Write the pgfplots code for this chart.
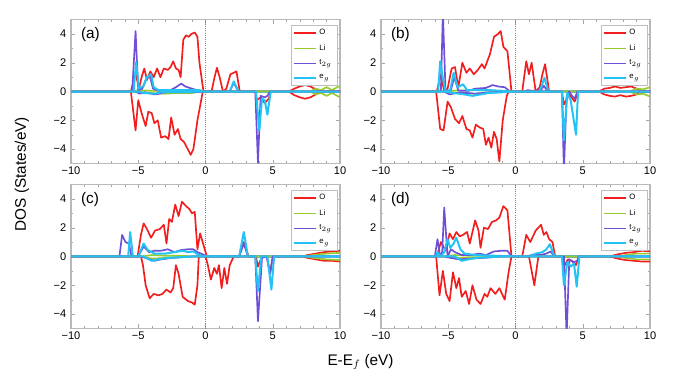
\documentclass[border=0pt]{standalone}
\usepackage{fontspec}
\setmainfont{Liberation Sans}
\usepackage{pgfplots}
\pgfplotsset{compat=1.18}
\definecolor{cO}{RGB}{242,30,30}
\definecolor{cLi}{RGB}{150,205,45}
\definecolor{cT}{RGB}{110,80,215}
\definecolor{cE}{RGB}{35,195,245}
\pgfplotsset{
  dosaxis/.style={
    width=201.75pt,height=108pt,scale only axis,
    xmin=-10,xmax=10,ymin=-5,ymax=5,
    xtick={-10,-5,0,5,10},xticklabels={−10,−5,0,5,10},
    ytick={-4,-2,0,2,4},yticklabels={−4,−2,0,2,4},
    minor x tick num=4, minor y tick num=1,
    tick align=inside, axis line style={gray!55, line width=0.8pt},
    major tick length=3pt, minor tick length=1.6pt,
    tick style={gray!70},
    tick label style={font=\fontsize{8.3}{9}\selectfont},
    xticklabel style={yshift=1pt},
    clip=true,
    legend cell align=left,
    legend style={at={(0.99,0.965)},anchor=north east,
      font=\fontsize{5.8}{6}\selectfont, draw=gray!50, fill=white,
      row sep=1.8pt, inner sep=1.5pt, inner xsep=2pt},
    legend image code/.code={\draw[#1] (0pt,0pt) -- (16pt,0pt);},
  },
  O/.style={color=cO, line width=1.25pt, line join=round},
  L/.style={color=cLi, line width=1.25pt, line join=round},
  T/.style={color=cT, line width=1.25pt, line join=round},
  E/.style={color=cE, line width=1.5pt, line join=round},
}
\newcommand{\zeroline}{\draw[gray, densely dotted, line width=0.6pt] (axis cs:0,-5) -- (axis cs:0,5);}
\newcommand{\leg}{\legend{O,Li,t$_{2g}$,e$_g$}}
\begin{document}
\begin{tikzpicture}
\useasboundingbox (0,0) rectangle (513pt,290.25pt);
% ---------------- (a)
\begin{axis}[dosaxis, at={(53.25pt,167.6pt)}, anchor=south west]
\zeroline
\addplot[O] coordinates {(-10,0)(-5.55,0)(-5.2,1.3)(-4.95,0.2)(-4.75,1.0)(-4.55,1.6)(-4.35,0.8)(-4.1,1.4)(-3.85,1.0)(-3.6,1.6)(-3.35,1.0)(-3.1,1.6)(-2.8,1.5)(-2.6,1.7)(-2.4,2.1)(-2.2,1.6)(-2.0,1.5)(-1.85,1.0)(-1.65,3.6)(-1.45,3.9)(-1.25,3.8)(-1.05,4.0)(-0.8,4.1)(-0.6,3.8)(-0.45,2.0)(-0.15,0)(0.45,0)(0.65,0.9)(0.85,1.65)(1.05,1.0)(1.3,0)(1.55,0.2)(1.85,1.2)(2.1,1.3)(2.3,1.4)(2.55,0)(6.2,0)(6.6,0.2)(7.0,0.35)(7.4,0.45)(7.8,0.35)(8.2,0.15)(8.6,0)(10,0)};
\addplot[L] coordinates {(-10,0)(-5.4,0)(-5,0.1)(-4,0.05)(-3,0.05)(-2,0.1)(-1,0.1)(-0.3,0)(7.8,0)(8.2,0.2)(8.6,0.1)(9.0,0.3)(9.4,0.1)(9.8,0.3)(10,0.4)};
\addplot[T] coordinates {(-10,0)(-5.45,0)(-5.2,4.2)(-5.0,0.1)(-4.7,0.2)(-4.45,0.8)(-4.15,1.1)(-3.9,0.2)(-3.5,0.05)(-2.6,0.1)(-2.2,0.3)(-1.8,0.55)(-1.5,0.35)(-1.0,0.2)(-0.3,0)(1.8,0)(2.1,0.6)(2.45,0)(10,0)};
\addplot[E] coordinates {(-10,0)(-5.35,0)(-5.15,2.05)(-4.95,0.2)(-4.6,0.4)(-4.35,1.0)(-4.05,1.2)(-3.85,0.3)(-3.5,0.1)(-2,0.1)(-0.5,0.1)(0,0)(1.8,0)(2.1,0.7)(2.45,0)(10,0)};
\addplot[O,forget plot] coordinates {(-10,0)(-5.55,0)(-5.2,-2.7)(-5.0,-0.6)(-4.75,-1.5)(-4.45,-2.4)(-4.25,-1.4)(-4.0,-1.5)(-3.8,-2.2)(-3.55,-2.0)(-3.3,-3.2)(-3.0,-3.1)(-2.75,-3.3)(-2.55,-1.8)(-2.3,-3.0)(-2.05,-2.6)(-1.85,-3.3)(-1.6,-3.5)(-1.4,-3.85)(-1.1,-4.4)(-0.9,-4.0)(-0.6,-2.0)(-0.2,0)(3.7,0)(3.8,-0.6)(4.1,-0.4)(4.4,-0.8)(4.7,-0.5)(4.85,0)(6.2,0)(6.6,-0.25)(7.0,-0.4)(7.4,-0.5)(7.8,-0.4)(8.2,-0.2)(8.6,0)(10,0)};
\addplot[L,forget plot] coordinates {(-10,0)(-5.4,0)(-4,-0.1)(-3,-0.15)(-2,-0.1)(-1,-0.1)(-0.3,0)(7.8,0)(8.2,-0.2)(8.6,-0.1)(9.0,-0.3)(9.4,-0.1)(9.8,-0.3)(10,-0.4)};
\addplot[T,forget plot] coordinates {(-10,0)(-5.2,0)(-4.9,-0.15)(-4.5,-0.05)(-3.8,-0.2)(-3.4,-0.15)(-3,-0.05)(-1,-0.05)(0,0)(3.7,0)(3.9,-4.95)(4.1,-0.3)(4.4,-0.4)(4.6,-0.3)(4.8,0)(10,0)};
\addplot[E,forget plot] coordinates {(-10,0)(-5.0,0)(-4.6,-0.1)(-3.8,-0.15)(-3.2,-0.05)(0,0)(3.75,0)(4.0,-2.7)(4.2,-0.5)(4.4,-0.6)(4.6,-1.6)(4.85,0)(10,0)};
\leg
\node[anchor=north west,font=\fontsize{11.5}{12}\selectfont] at (rel axis cs:0.02,0.98) {(a)};
\end{axis}
% ---------------- (b)
\begin{axis}[dosaxis, at={(285.75pt,167.6pt)}, anchor=south west]
\zeroline
\addplot[O] coordinates {(-10,0)(-5.85,0)(-5.55,1.2)(-5.3,0)(-5.05,0.2)(-4.75,1.6)(-4.5,1.7)(-4.25,0.3)(-3.95,2.0)(-3.65,1.3)(-3.4,1.6)(-3.1,1.2)(-2.8,1.5)(-2.5,1.9)(-2.3,1.6)(-2.1,2.1)(-1.9,2.6)(-1.6,3.8)(-1.3,4.0)(-1.1,4.2)(-0.9,3.1)(-0.6,2.8)(-0.3,0)(0.5,0)(0.8,2.1)(1.0,1.2)(1.2,2.0)(1.5,0)(1.8,0.3)(2.0,1.2)(2.2,1.9)(2.5,0)(6.2,0)(6.6,0.2)(7,0.25)(7.4,0.35)(7.8,0.25)(8.2,0.3)(8.6,0.35)(9.0,0.2)(9.3,0)(10,0)};
\addplot[L] coordinates {(-10,0)(-5.6,0)(-5,0.05)(-3,0.1)(-1.5,0.05)(-0.5,0)(8.5,0)(9,0.2)(9.5,0.15)(10,0.3)};
\addplot[T] coordinates {(-10,0)(-5.55,0)(-5.4,5.5)(-5.2,0)(-4.8,0.1)(-4.55,1.0)(-4.25,0.05)(-3.5,0.05)(-3.0,0.2)(-2.2,0.25)(-1.7,0.45)(-1.3,0.35)(-0.8,0.3)(-0.4,0)(0.7,0)(0.9,0.1)(1.2,0.05)(1.9,0.1)(2.1,0.4)(2.4,0)(10,0)};
\addplot[E] coordinates {(-10,0)(-5.75,0)(-5.6,2.1)(-5.4,0.9)(-5.2,0)(-4.85,0.1)(-4.6,1.3)(-4.3,0.3)(-3.9,0.5)(-3.6,0.1)(-2,0.1)(0,0)(1.8,0)(2.15,0.95)(2.45,0)(10,0)};
\addplot[O,forget plot] coordinates {(-10,0)(-5.9,0)(-5.6,-2.6)(-5.35,-2.7)(-5.05,-0.7)(-4.8,-1.1)(-4.5,-1.9)(-4.2,-2.2)(-3.95,-1.7)(-3.65,-2.6)(-3.4,-2.7)(-3.2,-3.2)(-2.95,-2.3)(-2.65,-2.5)(-2.4,-2.6)(-2.2,-3.7)(-2.0,-3.2)(-1.8,-3.9)(-1.6,-2.8)(-1.4,-3.3)(-1.2,-4.85)(-0.95,-2.0)(-0.65,-0.3)(-0.5,0)(3.45,0)(3.6,-0.9)(4.0,-0.2)(4.4,-0.7)(4.65,0)(6.2,0)(6.6,-0.2)(7,-0.3)(7.4,-0.35)(7.8,-0.25)(8.2,-0.35)(8.6,-0.3)(9.0,-0.2)(9.3,0)(10,0)};
\addplot[L,forget plot] coordinates {(-10,0)(-5.6,0)(-4,-0.1)(-3,-0.15)(-2,-0.1)(-0.5,0)(8.5,0)(9,-0.2)(9.5,-0.15)(10,-0.35)};
\addplot[T,forget plot] coordinates {(-10,0)(-5.3,0)(-4.9,-0.2)(-4.4,-0.1)(-3.6,-0.1)(-3,-0.15)(-2,-0.05)(0,0)(3.45,0)(3.6,-5.5)(3.8,-0.3)(4.0,0)(4.2,-0.3)(4.4,-0.5)(4.6,0)(10,0)};
\addplot[E,forget plot] coordinates {(-10,0)(-5.2,0)(-4.6,-0.1)(-3.8,-0.2)(-3.2,-0.3)(-2,-0.1)(0,0)(3.45,0)(3.6,-3.4)(3.85,-0.1)(4.1,-0.6)(4.5,-3.0)(4.65,0)(10,0)};
\leg
\node[anchor=north west,font=\fontsize{11.5}{12}\selectfont] at (rel axis cs:0.02,0.98) {(b)};
\end{axis}
% ---------------- (c)
\begin{axis}[dosaxis, at={(53.25pt,43.9pt)}, anchor=south west]
\zeroline
\addplot[O] coordinates {(-10,0)(-5.05,0)(-4.8,1.5)(-4.6,2.3)(-4.35,1.9)(-4.05,1.3)(-3.75,1.8)(-3.4,1.9)(-3.1,2.2)(-2.9,0.9)(-2.7,2.6)(-2.5,2.4)(-2.25,3.6)(-2.0,2.8)(-1.75,3.8)(-1.45,3.5)(-1.2,3.3)(-1.0,3.0)(-0.8,3.1)(-0.6,0.5)(-0.4,1.6)(-0.15,0.8)(0.1,0)(2.5,0)(2.85,1.0)(3.2,0)(7.2,0)(7.6,0.1)(8.2,0.2)(8.8,0.3)(9.4,0.35)(10,0.4)};
\addplot[L] coordinates {(-10,0)(-4.7,0)(-4,0.1)(-3,0.05)(-2,0.05)(-0.5,0)(7.4,0)(8,0.1)(9,0.2)(10,0.25)};
\addplot[T] coordinates {(-10,0)(-6.4,0)(-6.2,1.5)(-5.95,1.0)(-5.7,0.9)(-5.5,0)(-5.0,0)(-4.6,0.7)(-4.2,0.3)(-3.8,0.4)(-3.3,0.4)(-2.8,0.5)(-2.3,0.3)(-1.8,0.45)(-1.3,0.5)(-0.9,0.5)(-0.6,0.3)(-0.2,0.15)(0.1,0)(2.5,0)(2.85,0.9)(3.15,0)(10,0)};
\addplot[E] coordinates {(-10,0)(-5.75,0)(-5.6,1.7)(-5.4,0)(-5.0,0)(-4.6,0.9)(-4.3,0.45)(-3.8,0.2)(-3.0,0.2)(-2.3,0.3)(-1.7,0.4)(-1.3,0.3)(-0.9,0.35)(-0.5,0.1)(0,0)(2.5,0)(2.85,1.7)(3.15,0)(10,0)};
\addplot[O,forget plot] coordinates {(-10,0)(-4.8,0)(-4.65,-0.6)(-4.45,-2.0)(-4.15,-2.9)(-3.85,-2.6)(-3.5,-2.7)(-3.2,-2.6)(-2.9,-2.3)(-2.6,-2.5)(-2.4,-2.2)(-2.2,-0.6)(-2.0,-1.2)(-1.7,-2.8)(-1.3,-3.1)(-1.0,-3.2)(-0.8,-3.35)(-0.6,-2.0)(-0.5,0)(0,0)(0.15,-0.5)(0.4,-1.6)(0.65,-0.8)(0.85,-1.2)(1.0,-0.6)(1.2,-2.2)(1.4,-0.8)(1.6,-1.9)(1.8,-0.6)(2.1,0)(3.75,0)(3.9,-0.7)(4.2,0)(4.55,0)(4.8,-1.2)(5.0,0)(7.2,0)(7.6,-0.1)(8.2,-0.2)(8.8,-0.3)(9.4,-0.3)(10,-0.35)};
\addplot[L,forget plot] coordinates {(-10,0)(-4.7,0)(-4,-0.15)(-3,-0.1)(-2,-0.05)(-0.5,0)(7.4,0)(8,-0.1)(9,-0.2)(10,-0.25)};
\addplot[T,forget plot] coordinates {(-10,0)(-4.8,0)(-4.3,-0.15)(-3.8,-0.3)(-3.3,-0.2)(-2.5,-0.1)(-1,0)(3.7,0)(3.9,-4.5)(4.2,-0.1)(4.55,0)(4.8,-1.2)(5.0,0)(10,0)};
\addplot[E,forget plot] coordinates {(-10,0)(-4.6,0)(-4.0,-0.3)(-3.5,-0.2)(-2.8,-0.1)(-1,0)(3.7,0)(3.9,-2.4)(4.15,0)(4.6,0)(4.9,-2.3)(5.1,0)(10,0)};
\leg
\node[anchor=north west,font=\fontsize{11.5}{12}\selectfont] at (rel axis cs:0.02,0.98) {(c)};
\end{axis}
% ---------------- (d)
\begin{axis}[dosaxis, at={(285.75pt,43.9pt)}, anchor=south west]
\zeroline
\addplot[O] coordinates {(-10,0)(-5.85,0)(-5.55,1.0)(-5.2,0.4)(-4.9,1.6)(-4.65,1.2)(-4.4,1.7)(-4.15,1.4)(-3.9,1.5)(-3.6,1.7)(-3.4,0.9)(-3.0,2.5)(-2.75,1.8)(-2.6,0.6)(-2.35,2.0)(-2.05,1.9)(-1.75,2.4)(-1.45,2.5)(-1.2,2.7)(-0.9,3.5)(-0.6,3.2)(-0.3,0)(0.5,0)(0.8,1.5)(1.1,1.0)(1.5,1.8)(1.9,2.2)(2.1,1.5)(2.3,1.7)(2.5,1.2)(2.75,1.0)(2.95,0)(7.0,0)(7.6,0.15)(8.2,0.25)(8.8,0.3)(9.4,0.4)(10,0.35)};
\addplot[L] coordinates {(-10,0)(-5.5,0)(-4.5,0.1)(-3.5,0.05)(-2,0.05)(-0.5,0)(7.5,0)(8.2,0.1)(9,0.2)(10,0.2)};
\addplot[T] coordinates {(-10,0)(-6.0,0)(-5.8,1.2)(-5.6,0)(-5.45,0.3)(-5.3,3.4)(-5.05,0)(-4.8,0.5)(-4.5,0.3)(-4.0,0.1)(-3.3,0.1)(-2.7,0.2)(-2.2,0.1)(-1.6,0.35)(-1.0,0.4)(-0.6,0.4)(-0.3,0)(0.8,0)(1.2,0.1)(1.8,0.1)(2.3,0.2)(2.6,0.35)(2.9,0)(10,0)};
\addplot[E] coordinates {(-10,0)(-5.95,0)(-5.8,0.3)(-5.6,0)(-5.3,0.3)(-5.05,1.2)(-4.85,0.6)(-4.6,0.9)(-4.4,1.3)(-4.1,0.5)(-3.8,0.2)(-3,0.1)(-1.5,0.05)(0,0)(1.0,0)(1.5,0.2)(2.0,0.3)(2.3,0.5)(2.55,0.85)(2.9,0)(10,0)};
\addplot[O,forget plot] coordinates {(-10,0)(-5.9,0)(-5.65,-2.7)(-5.4,-1.0)(-5.15,-2.6)(-4.9,-3.1)(-4.65,-1.1)(-4.4,-2.2)(-4.2,-1.5)(-4.0,-2.8)(-3.7,-2.4)(-3.45,-3.3)(-3.2,-2.0)(-2.9,-3.0)(-2.6,-3.3)(-2.3,-2.6)(-2.1,-2.8)(-1.85,-2.2)(-1.5,-2.6)(-1.2,-2.2)(-0.8,-3.0)(-0.5,-1.0)(-0.3,0)(1.0,0)(1.4,-2.0)(1.7,0)(3.45,0)(3.6,-0.7)(3.9,-0.2)(4.2,-0.3)(4.5,-0.6)(4.7,0)(7.0,0)(7.6,-0.15)(8.2,-0.25)(8.8,-0.3)(9.4,-0.35)(10,-0.35)};
\addplot[L,forget plot] coordinates {(-10,0)(-5.5,0)(-4.5,-0.1)(-3.5,-0.1)(-2,-0.05)(-0.5,0)(7.5,0)(8.2,-0.1)(9,-0.2)(10,-0.2)};
\addplot[T,forget plot] coordinates {(-10,0)(-5.3,0)(-4.8,-0.1)(-4.2,-0.2)(-3.3,-0.15)(-2.5,-0.1)(-1,0)(3.6,0)(3.8,-5.5)(4.0,-0.2)(4.3,-0.4)(4.6,-0.3)(4.7,0)(10,0)};
\addplot[E,forget plot] coordinates {(-10,0)(-4.5,0)(-4.0,-0.3)(-3.5,-0.2)(-3.0,-0.1)(-1,0)(3.45,0)(3.6,-2.0)(3.85,-0.4)(4.1,-0.7)(4.35,-0.5)(4.55,-2.1)(4.75,0)(10,0)};
\leg
\node[anchor=north west,font=\fontsize{11.5}{12}\selectfont] at (rel axis cs:0.02,0.98) {(d)};
\end{axis}
\node[rotate=90,font=\fontsize{11.5}{12}\selectfont] at (16.5pt,159.75pt) {DOS (States/eV)};
\node[font=\fontsize{11.5}{12}\selectfont] at (270.4pt,18.75pt) {E-E$_f$ (eV)};
\end{tikzpicture}
\end{document}
